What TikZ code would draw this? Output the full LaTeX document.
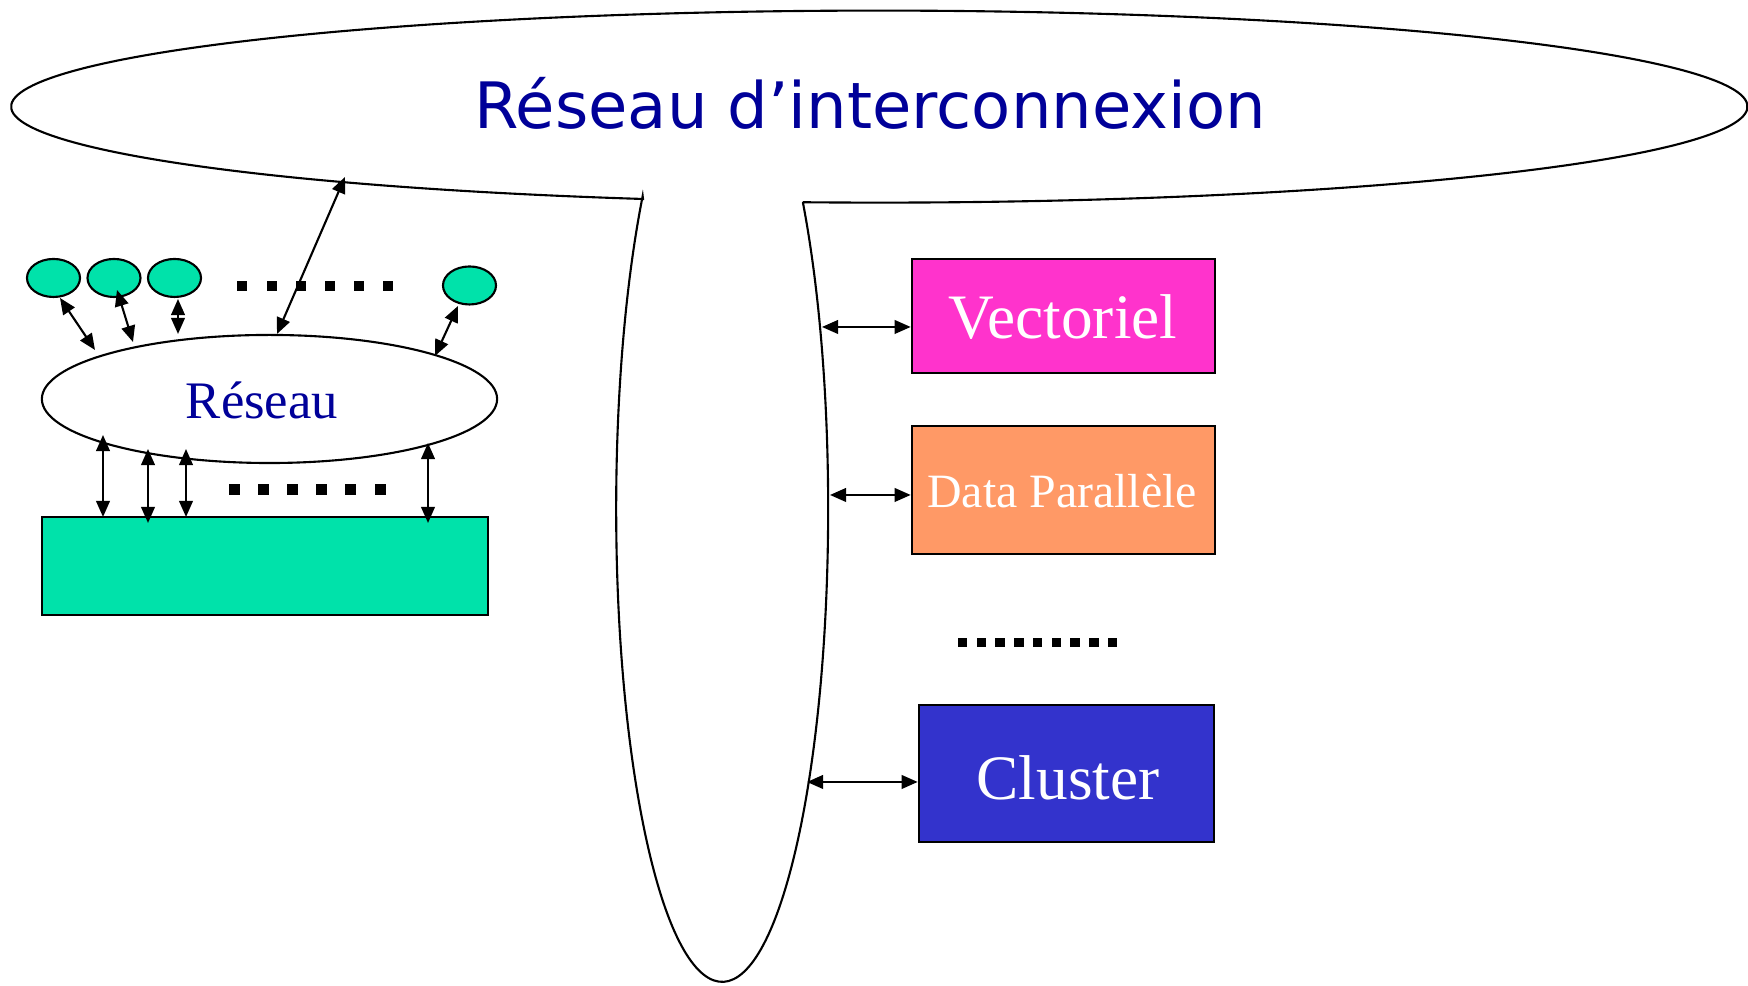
\documentclass[tikz,border=0pt]{standalone}
\usepackage{fontspec}
\setmainfont{Liberation Serif}
\newfontfamily\verd{DejaVu Sans}
\usetikzlibrary{arrows.meta,shapes.geometric}
\definecolor{navytext}{RGB}{0,0,153}
\definecolor{mintgreen}{RGB}{0,226,170}
\definecolor{vecmag}{RGB}{255,51,204}
\definecolor{dporange}{RGB}{255,153,102}
\definecolor{clublue}{RGB}{51,51,204}
\tikzset{
  line/.style={line width=0.6pt},
  dbl/.style={line width=0.6pt,{Triangle[length=4.6pt,width=3.9pt]}-{Triangle[length=4.6pt,width=3.9pt]}},
  pe/.style={ellipse,draw,line width=0.6pt,fill=mintgreen,inner sep=0pt,minimum width=0.53cm,minimum height=0.38cm},
  sq/.style={fill=black,inner sep=0pt,minimum size=#1},
  box/.style={draw,line width=0.7pt,inner sep=0pt},
  lab/.style={anchor=base,inner sep=0pt}
}
\begin{document}
\begin{tikzpicture}[x=0.01cm,y=0.01cm]
\useasboundingbox (0,0) rectangle (1748,986);
% big interconnection network: ellipse + funnel
\coordinate (jl) at (643,787);
\coordinate (jr) at (803,783);
\draw[line] (jl) arc[start angle=254.2,end angle=-95,x radius=868,y radius=96]
  -- (jr) arc[start angle=40.3,end angle=-221.4,x radius=106,y radius=473] -- cycle;
\node[lab,text=navytext,font={\verd\fontsize{18.2pt}{20pt}\selectfont}] (title) at (870,857) {Réseau d’interconnexion};

% small network
\node[ellipse,draw,line width=0.6pt,inner sep=0pt,minimum width=4.55cm,minimum height=1.28cm] (res) at (269.5,587) {};
\node[lab,text=navytext,font={\fontsize{15pt}{17pt}\selectfont}] (reslab) at (262,567) {Réseau};

% processors
\node[pe] (g1) at (53.5,708) {};
\node[pe] (g2) at (114,708) {};
\node[pe] (g3) at (174.5,708) {};
\node[pe] (g4) at (469.5,700.5) {};
\foreach \i/\x in {1/242,2/272,3/301,4/330,5/359,6/388}
  \node[sq=0.1cm] (da\i) at (\x,700) {};

% memory
\node[box,fill=mintgreen,minimum width=4.46cm,minimum height=0.98cm] (mem) at (265,420) {};
\foreach \i/\x in {1/234.5,2/263.5,3/292.5,4/321.5,5/350.5,6/380.5}
  \node[sq=0.11cm] (db\i) at (\x,496) {};

% arrow endpoints
\coordinate (a1s) at (60,688);  \coordinate (a1e) at (95,636);
\coordinate (a2s) at (117,696); \coordinate (a2e) at (133,644);
\coordinate (a3s) at (178,687); \coordinate (a3e) at (178,652);
\coordinate (a4s) at (458,680); \coordinate (a4e) at (435,630);
\coordinate (ups) at (277,652); \coordinate (upe) at (345,809);
\draw[dbl] (a1s) -- (a1e);
\draw[dbl] (a2s) -- (a2e);
\draw[dbl] (a3s) -- (a3e);
\draw[dbl] (a4s) -- (a4e);
\draw[dbl] (ups) -- (upe);

\coordinate (v1s) at (103,551); \coordinate (v1e) at (103,469);
\coordinate (v2s) at (148,537); \coordinate (v2e) at (148,463);
\coordinate (v3s) at (186,537); \coordinate (v3e) at (186,469);
\coordinate (v4s) at (428,543); \coordinate (v4e) at (428,463);
\draw[dbl] (v1s) -- (v1e);
\draw[dbl] (v2s) -- (v2e);
\draw[dbl] (v3s) -- (v3e);
\draw[dbl] (v4s) -- (v4e);

% machines
\node[box,fill=vecmag,minimum width=3.03cm,minimum height=1.14cm] (vec) at (1063.5,670) {};
\node[lab,text=white,font={\fontsize{18pt}{20pt}\selectfont}] (veclab) at (1063,647) {Vectoriel};
\node[box,fill=dporange,minimum width=3.03cm,minimum height=1.28cm] (dp) at (1063.5,496) {};
\node[lab,text=white,font={\fontsize{13.6pt}{15pt}\selectfont}] (dplab) at (1062,478) {Data Parallèle};
\node[box,fill=clublue,minimum width=2.95cm,minimum height=1.37cm] (clu) at (1066.5,212.5) {};
\node[lab,text=white,font={\fontsize{18pt}{20pt}\selectfont}] (clulab) at (1068,186) {Cluster};
\foreach \i in {0,...,8}
  \node[sq=0.095cm] (dc\i) at (962.5+18.75*\i,343.5) {};

\coordinate (h1) at (822,659);
\coordinate (h2) at (830,491);
\coordinate (h3) at (807,204);
\draw[dbl] (h1) -- (vec.west |- h1);
\draw[dbl] (h2) -- (dp.west |- h2);
\draw[dbl] (h3) -- (clu.west |- h3);
\end{tikzpicture}
\end{document}
